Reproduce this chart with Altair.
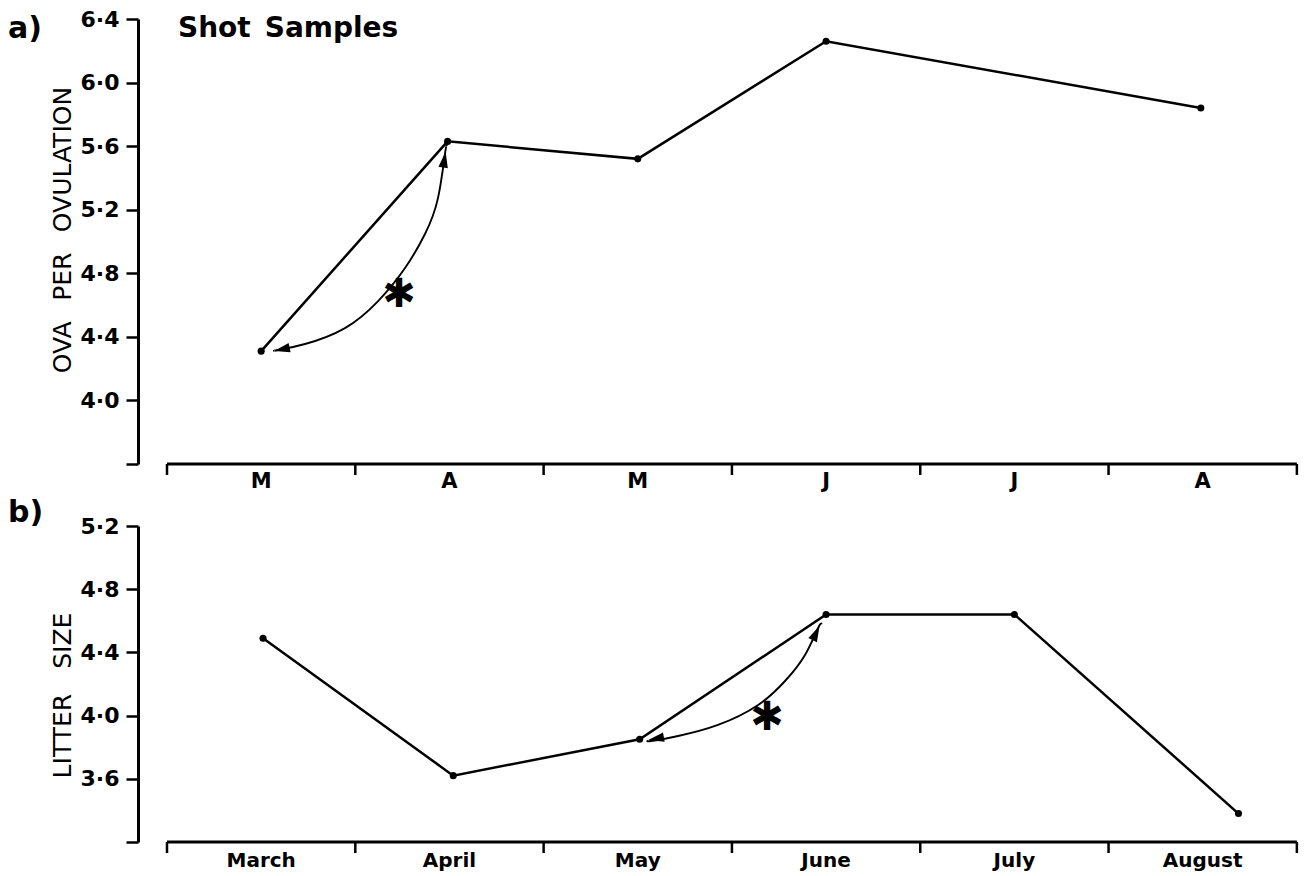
import altair as alt
import pandas as pd

# ---------------- data ----------------
months_short = ["M", "A", "M", "J", "J", "A"]
months_long = ["March", "April", "May", "June", "July", "August"]
band_centers = [0.5, 1.5, 2.5, 3.5, 4.5, 5.5]
band_edges = [0, 1, 2, 3, 4, 5, 6]

# a) ova per ovulation (shot samples)
a_x = [0.50, 1.49, 2.50, 3.50, 5.49]
a_y = [4.31, 5.63, 5.52, 6.26, 5.84]
# b) litter size
b_x = [0.51, 1.52, 2.51, 3.50, 4.50, 5.69]
b_y = [4.49, 3.62, 3.85, 4.64, 4.64, 3.38]

a_ticks = [3.6, 4.0, 4.4, 4.8, 5.2, 5.6, 6.0, 6.4]
b_ticks = [3.2, 3.6, 4.0, 4.4, 4.8, 5.2]

# significance arcs (annotation curves) and their arrowheads
a_arc_x = [1.487, 1.476, 1.439, 1.370, 1.264, 1.121, 0.945, 0.733, 0.589, 0.570]
a_arc_y = [5.600, 5.550, 5.273, 5.047, 4.833, 4.625, 4.455, 4.355, 4.317, 4.312]
a_head_x = [1.473, 0.610]
a_head_y = [5.515, 4.322]
a_head_ang = [9, 258]
a_star = [1.232, 4.663]

b_arc_x = [3.478, 3.457, 3.388, 3.282, 3.139, 2.926, 2.714, 2.570, 2.555]
b_arc_y = [4.580, 4.554, 4.384, 4.219, 4.067, 3.941, 3.871, 3.839, 3.842]
b_head_x = [3.447, 2.597]
b_head_y = [4.523, 3.855]
b_head_ang = [26, 260]
b_star = [3.186, 3.985]

FONT = "DejaVu Sans"
W = 1160
HA, HB = 445, 316
xs = alt.Scale(domain=[-0.154, 6.006], nice=False, zero=False)
ARROW = "M0,-1L0.6,1L-0.6,1Z"


def panel(xv, yv, ticks, dom, H, arc_x, arc_y, hx, hy, ha, star, labels,
          lab_size, lab_dy, ytitle, title_y, tag, title=None):
    ys = alt.Scale(domain=dom, nice=False, zero=False)
    thr = dom[0] + 0.05
    yaxis = alt.Axis(
        values=ticks,
        labelExpr=f"datum.value < {thr} ? '' : replace(format(datum.value, '.1f'), '.', '\u00b7')",
        title=ytitle, titleFontSize=25, titleFontWeight="normal", titleFont=FONT,
        titlePadding=5, titleY=title_y, grid=False, domainWidth=3, domainColor="black",
        tickColor="black", tickWidth=2.5, tickSize=12, labelFontSize=22,
        labelFont=FONT, labelFontWeight="bold", labelColor="black", labelPadding=7,
        titleColor="black",
    )
    df = pd.DataFrame({"x": xv, "y": yv})
    base = alt.Chart(df)
    line = base.mark_line(color="black", strokeWidth=2.5).encode(
        x=alt.X("x:Q", scale=xs, axis=None), y=alt.Y("y:Q", scale=ys, axis=yaxis))
    pts = base.mark_circle(color="black", size=50, opacity=1).encode(
        x=alt.X("x:Q", scale=xs, axis=None), y=alt.Y("y:Q", scale=ys, axis=yaxis))
    arc = alt.Chart(pd.DataFrame({"x": arc_x, "y": arc_y})).mark_line(
        color="black", strokeWidth=1.9, interpolate="natural").encode(
        x=alt.X("x:Q", scale=xs, axis=None), y=alt.Y("y:Q", scale=ys, axis=yaxis),
        order=alt.Order("x:Q"))
    heads = alt.Chart(pd.DataFrame({"x": hx, "y": hy, "a": ha})).mark_point(
        shape=ARROW, filled=True, color="black", opacity=1, size=250).encode(
        x=alt.X("x:Q", scale=xs, axis=None), y=alt.Y("y:Q", scale=ys, axis=yaxis),
        angle=alt.Angle("a:Q", scale=None))
    st = alt.Chart(pd.DataFrame({"x": [star[0]], "y": [star[1]], "t": ["\u2731"]})).mark_text(
        font="DejaVu Sans", fontSize=40, fontWeight="bold", color="black",
        baseline="middle", align="center").encode(
        x=alt.X("x:Q", scale=xs, axis=None), y=alt.Y("y:Q", scale=ys, axis=yaxis),
        text="t:N")
    axline = alt.Chart(pd.DataFrame({"x0": [band_edges[0]], "x1": [band_edges[-1]]})).mark_rule(
        color="black", strokeWidth=3).encode(
        x=alt.X("x0:Q", scale=xs, axis=None), x2="x1:Q", y=alt.value(H))
    axticks = alt.Chart(pd.DataFrame({"x": band_edges})).mark_rule(
        color="black", strokeWidth=2.5).encode(
        x=alt.X("x:Q", scale=xs, axis=None), y=alt.value(H), y2=alt.value(H + 11))
    axlabels = alt.Chart(pd.DataFrame({"x": band_centers, "t": labels})).mark_text(
        font=FONT, fontSize=lab_size, fontWeight="bold", color="black",
        baseline="middle", align="center").encode(
        x=alt.X("x:Q", scale=xs, axis=None), y=alt.value(H + lab_dy), text="t:N")
    tagt = alt.Chart(pd.DataFrame({"t": [tag]})).mark_text(
        font=FONT, fontSize=30, fontWeight="bold", color="black",
        baseline="middle", align="left").encode(
        x=alt.value(-130), y=alt.value(10 if title else -13), text="t:N")
    layers = [line, pts, arc, heads, st, axline, axticks, axlabels, tagt]
    if title:
        tt = alt.Chart(pd.DataFrame({"t": [title]})).mark_text(
            font=FONT, fontSize=28, fontWeight="bold", color="black",
            baseline="middle", align="left").encode(
            x=alt.value(40), y=alt.value(10), text="t:N")
        layers.append(tt)
    return alt.layer(*layers).properties(width=W, height=H)


pa = panel(a_x, a_y, a_ticks, [3.6, 6.4], HA, a_arc_x, a_arc_y, a_head_x, a_head_y,
           a_head_ang, a_star, months_short, 21, 18,
           "OVA\u2002 PER\u2002 OVULATION", HA / 2 - 12, "a)", "Shot\u2002Samples")
pb = panel(b_x, b_y, b_ticks, [3.2, 5.2], HB, b_arc_x, b_arc_y, b_head_x, b_head_y,
           b_head_ang, b_star, months_long, 20, 19,
           "LITTER\u2003SIZE", HB / 2 + 11, "b)")

chart = alt.vconcat(pa, pb, spacing=6).properties(
    padding=0, background="white").configure_view(stroke=None, strokeWidth=0)

chart.save("out.html", embed_options={"renderer": "svg", "actions": False})
